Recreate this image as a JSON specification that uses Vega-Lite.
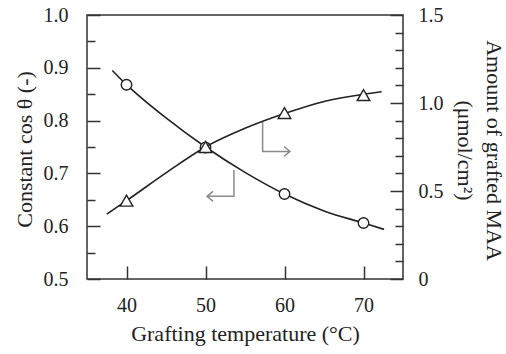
{
  "$schema": "https://vega.github.io/schema/vega-lite/v6.json",
  "width": 316,
  "height": 264,
  "autosize": "none",
  "padding": {"left": 87, "top": 15, "right": 103, "bottom": 75},
  "background": "white",
  "config": {
    "view": {"stroke": "#333", "strokeWidth": 1.5},
    "axis": {
      "grid": false,
      "domain": false,
      "labelFont": "Liberation Serif",
      "labelFontSize": 20,
      "labelColor": "#222",
      "titleFont": "Liberation Serif",
      "titleFontSize": 22,
      "titleFontWeight": "normal",
      "titleColor": "#222",
      "tickColor": "#333",
      "tickWidth": 1.5
    }
  },
  "datasets": {
    "cosCurve": [
      {"t": 38.2, "v": 0.895}, {"t": 40, "v": 0.868}, {"t": 45, "v": 0.805},
      {"t": 50, "v": 0.75}, {"t": 55, "v": 0.702}, {"t": 60, "v": 0.661},
      {"t": 65, "v": 0.629}, {"t": 70, "v": 0.606}, {"t": 72.6, "v": 0.594}
    ],
    "cosPts": [
      {"t": 40, "v": 0.868}, {"t": 50, "v": 0.749}, {"t": 60, "v": 0.661}, {"t": 70, "v": 0.606}
    ],
    "maaCurve": [
      {"t": 37.5, "v": 0.369}, {"t": 40, "v": 0.445}, {"t": 45, "v": 0.603},
      {"t": 50, "v": 0.75}, {"t": 55, "v": 0.856}, {"t": 60, "v": 0.94},
      {"t": 65, "v": 1.009}, {"t": 70, "v": 1.05}, {"t": 72.3, "v": 1.064}
    ],
    "maaPts": [
      {"t": 40, "v": 0.445}, {"t": 50, "v": 0.75}, {"t": 60, "v": 0.943}, {"t": 70, "v": 1.045}
    ],
    "arrows": [
      {"seg": "a1shaft", "o": 1, "t": 53.6, "v": 0.707},
      {"seg": "a1shaft", "o": 2, "t": 53.6, "v": 0.6565},
      {"seg": "a1shaft", "o": 3, "t": 50.2, "v": 0.6565},
      {"seg": "a1head", "o": 1, "t": 50.95, "v": 0.666},
      {"seg": "a1head", "o": 2, "t": 50.2, "v": 0.6565},
      {"seg": "a1head", "o": 3, "t": 50.95, "v": 0.647},
      {"seg": "a2shaft", "o": 1, "t": 57.23, "v": 0.7985},
      {"seg": "a2shaft", "o": 2, "t": 57.23, "v": 0.7417},
      {"seg": "a2shaft", "o": 3, "t": 60.69, "v": 0.7417},
      {"seg": "a2head", "o": 1, "t": 59.95, "v": 0.751},
      {"seg": "a2head", "o": 2, "t": 60.69, "v": 0.7417},
      {"seg": "a2head", "o": 3, "t": 59.95, "v": 0.7325}
    ]
  },
  "encoding": {
    "x": {
      "field": "t", "type": "quantitative",
      "scale": {"domain": [35, 75], "nice": false, "zero": false},
      "axis": {
        "orient": "bottom",
        "values": [40, 50, 60, 70],
        "tickSize": -13,
        "labelPadding": 29,
        "title": "Grafting temperature (°C)",
        "titleY": 61,
        "titleBaseline": "alphabetic"
      }
    }
  },
  "layer": [
    {
      "layer": [
        {
          "data": {"name": "cosCurve"},
          "mark": {"type": "line", "interpolate": "monotone", "color": "#222", "strokeWidth": 1.6},
          "encoding": {
            "y": {
              "field": "v", "type": "quantitative",
              "scale": {"domain": [0.5, 1.0], "nice": false, "zero": false},
              "axis": {
                "orient": "left",
                "values": [0.5, 0.6, 0.7, 0.8, 0.9, 1.0],
                "format": ".1f",
                "tickSize": -13,
                "labelPadding": 32,
                "title": "Constant cos θ (-)",
                "titleX": -56,
                "titleY": 134,
                "titleBaseline": "alphabetic",
                "titleAngle": -90
              }
            }
          }
        },
        {
          "data": {"name": "cosPts"},
          "mark": {"type": "point", "shape": "circle", "filled": true, "fill": "white", "stroke": "#222", "strokeWidth": 1.4, "size": 110, "opacity": 1},
          "encoding": {
            "y": {
              "field": "v", "type": "quantitative",
              "scale": {"domain": [0.5, 1.0], "nice": false, "zero": false},
              "axis": {
                "orient": "left",
                "values": [0.55, 0.65, 0.75, 0.85, 0.95],
                "tickSize": -8,
                "labels": false,
                "title": null
              }
            }
          }
        },
        {
          "data": {"name": "arrows"},
          "mark": {"type": "line", "color": "#8a8a8a", "strokeWidth": 1.5},
          "encoding": {
            "y": {"field": "v", "type": "quantitative", "scale": {"domain": [0.5, 1.0], "nice": false, "zero": false}, "axis": null},
            "detail": {"field": "seg"},
            "order": {"field": "o"}
          }
        }
      ],
      "resolve": {"axis": {"y": "independent"}}
    },
    {
      "layer": [
        {
          "data": {"name": "maaCurve"},
          "mark": {"type": "line", "interpolate": "monotone", "color": "#222", "strokeWidth": 1.6},
          "encoding": {
            "y": {
              "field": "v", "type": "quantitative",
              "scale": {"domain": [0, 1.5], "nice": false, "zero": false},
              "axis": {
                "orient": "right",
                "values": [0, 0.5, 1.0, 1.5],
                "labelExpr": "datum.value == 0 ? '0' : format(datum.value, '.1f')",
                "tickSize": -13,
                "labelPadding": 28,
                "title": ["Amount of grafted MAA", "(μmol/cm²)"],
                "titleX": 83,
                "titleY": 135,
                "titleAngle": 90,
                "titleBaseline": "alphabetic",
                "titleLineHeight": 29
              }
            }
          }
        },
        {
          "data": {"name": "maaPts"},
          "mark": {"type": "point", "shape": "triangle-up", "filled": true, "fill": "white", "stroke": "#222", "strokeWidth": 1.4, "size": 160, "opacity": 1},
          "encoding": {
            "y": {
              "field": "v", "type": "quantitative",
              "scale": {"domain": [0, 1.5], "nice": false, "zero": false},
              "axis": {
                "orient": "right",
                "values": [0.1, 0.2, 0.3, 0.4, 0.6, 0.7, 0.8, 0.9, 1.1, 1.2, 1.3, 1.4],
                "tickSize": -8,
                "labels": false,
                "title": null
              }
            }
          }
        }
      ],
      "resolve": {"axis": {"y": "independent"}}
    }
  ],
  "resolve": {"scale": {"y": "independent"}}
}
